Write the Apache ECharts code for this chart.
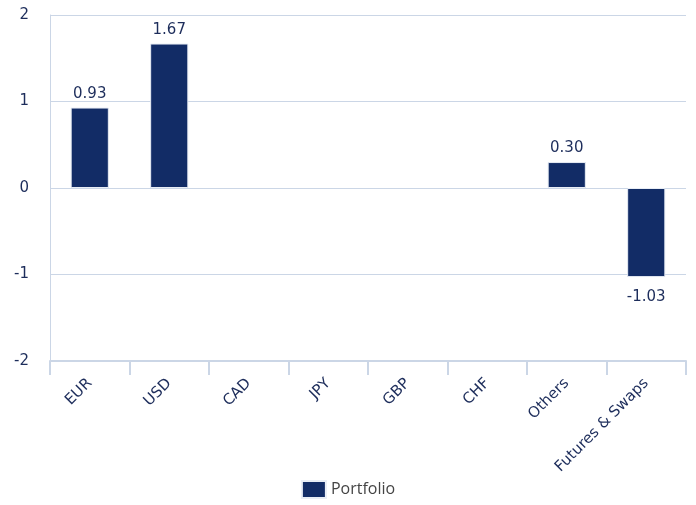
<!DOCTYPE html>
<html>
<head>
<meta charset="utf-8">
<script src="https://cdn.jsdelivr.net/npm/echarts@6/dist/echarts.min.js"></script>
<style>
  html, body { margin: 0; padding: 0; background: #fff; }
  #chart { width: 696px; height: 505px; }
</style>
</head>
<body>
<div id="chart"></div>
<script>
var categories = ['EUR', 'USD', 'CAD', 'JPY', 'GBP', 'CHF', 'Others', 'Futures & Swaps'];
var portfolio = [0.93, 1.67, null, null, null, null, 0.30, -1.03];
var yTicks = [-2, -1, 0, 1, 2];

var textColor = '#1d2d5b';
var gridColor = '#cbd6e6';

// negative bars get their label a bit further below
var barData = portfolio.map(function (v) {
    if (v != null && v < 0) {
        return { value: v, label: { distance: 13 } };
    }
    return v;
});

var chart = echarts.init(document.getElementById('chart'));
chart.setOption({
    animation: false,
    textStyle: { fontFamily: 'DejaVu Sans' },
    grid: { left: 50, right: 10, top: 15, bottom: 144, containLabel: false },
    legend: {
        bottom: 1,
        left: 'center',
        itemWidth: 24,
        itemHeight: 17,
        itemGap: 7,
        icon: 'rect',
        textStyle: { color: '#444', fontSize: 16, fontFamily: 'Open Sans' },
        data: ['Portfolio']
    },
    xAxis: {
        type: 'category',
        data: categories,
        position: 'bottom',
        axisLine: { onZero: false, lineStyle: { color: gridColor, width: 2 } },
        axisTick: { show: true, length: 14, lineStyle: { color: gridColor, width: 2 } },
        axisLabel: { rotate: 45, color: textColor, fontSize: 15, margin: 20 }
    },
    yAxis: {
        type: 'value',
        min: yTicks[0],
        max: yTicks[yTicks.length - 1],
        interval: 1,
        axisLine: { show: true, lineStyle: { color: gridColor, width: 1 } },
        axisTick: { show: false },
        splitLine: { lineStyle: { color: gridColor, width: 1 } },
        axisLabel: { color: textColor, fontSize: 15, margin: 21 }
    },
    series: [{
        name: 'Portfolio',
        type: 'bar',
        data: barData,
        barWidth: '48%',
        itemStyle: { color: '#122c66', borderColor: '#e8edf5', borderWidth: 1 },
        label: {
            show: true,
            position: 'outside',
            color: textColor,
            fontSize: 15,
            distance: 6,
            formatter: function (p) { return p.value == null ? '' : p.value.toFixed(2); }
        }
    }]
});
</script>
</body>
</html>
